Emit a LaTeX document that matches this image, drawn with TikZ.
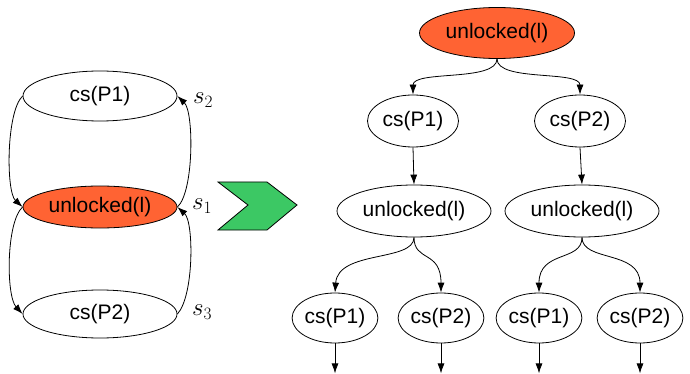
\documentclass[tikz,border=0pt]{standalone}
\usepackage{fontspec}
\setmainfont{Liberation Sans}
\usetikzlibrary{shapes.geometric,arrows.meta}
\definecolor{lockorange}{RGB}{255,99,51}
\definecolor{stepgreen}{RGB}{60,200,100}
\tikzset{
  state/.style={ellipse, draw, line width=0.8pt, inner sep=0pt, font=\fontsize{21}{25}\selectfont},
  lockstate/.style={state, fill=lockorange},
  edge/.style={-{Latex[length=10pt,width=7pt]}, line width=0.8pt},
  slabel/.style={font=\fontsize{23}{25}\selectfont}
}
\begin{document}
\begin{tikzpicture}[x=1pt, y=-1pt]
  \useasboundingbox (0,0) rectangle (690,374);
  % Zustandsgraph links
  \node[state, minimum width=154pt, minimum height=50pt] (lp1) at (100,96) {cs(P1)};
  \node[lockstate, minimum width=154pt, minimum height=42pt] (lul) at (100,207) {unlocked(l)};
  \node[state, minimum width=154pt, minimum height=48pt] (lp2) at (100,314) {cs(P2)};
  \draw[edge] (lp1.west) .. controls (6,112) and (6,192) .. (lul.west);
  \draw[edge] (lul.west) .. controls (6,222) and (6,296) .. (lp2.west);
  \draw[edge] (lul.east) .. controls (194,192) and (194,112) .. (lp1.east);
  \draw[edge] (lp2.east) .. controls (194,296) and (194,222) .. (lul.east);
  \node[slabel] (s2) at (203,100) {$s_2$};
  \node[slabel] (s1) at (202,206) {$s_1$};
  \node[slabel] (s3) at (202,312) {$s_3$};
  % Pfeil
  \draw[line width=0.8pt, fill=stepgreen] (218,182) -- (267,182) -- (297,205) -- (267,230)
    -- (218,230) -- (248,205) -- cycle;
  % Berechnungsbaum rechts
  \node[lockstate, minimum width=155pt, minimum height=51pt] (root) at (497,33) {unlocked(l)};
  \node[state, minimum width=91pt, minimum height=52pt] (ta) at (413,121) {cs(P1)};
  \node[state, minimum width=91pt, minimum height=52pt] (tb) at (580,121) {cs(P2)};
  \node[state, minimum width=154pt, minimum height=52pt] (ua) at (414,211) {unlocked(l)};
  \node[state, minimum width=154pt, minimum height=52pt] (ub) at (582,211) {unlocked(l)};
  \node[state, minimum width=76pt, minimum height=50pt] (ca) at (335,318) {cs(P1)};
  \node[state, minimum width=76pt, minimum height=50pt] (cb) at (441,318) {cs(P2)};
  \node[state, minimum width=76pt, minimum height=50pt] (cc) at (539,318) {cs(P1)};
  \node[state, minimum width=76pt, minimum height=50pt] (cd) at (640,318) {cs(P2)};
  \draw[edge] (root.south) .. controls (497,82) and (413,70) .. (ta.north);
  \draw[edge] (root.south) .. controls (497,82) and (580,70) .. (tb.north);
  \draw[edge] (ta.south) -- (ua.north);
  \draw[edge] (tb.south) -- (ub.north);
  \draw[edge] (ua.south) .. controls (414,262) and (338,250) .. (ca.north);
  \draw[edge] (ua.south) .. controls (414,262) and (441,250) .. (cb.north);
  \draw[edge] (ub.south) .. controls (582,262) and (539,250) .. (cc.north);
  \draw[edge] (ub.south) .. controls (582,262) and (640,250) .. (cd.north);
  % offene Enden
  \foreach \n in {ca,cb,cc,cd} {
    \coordinate (\n end) at ([yshift=-30pt]\n.south);
    \draw[edge] (\n.south) -- (\n end);
  }
\end{tikzpicture}
\end{document}
